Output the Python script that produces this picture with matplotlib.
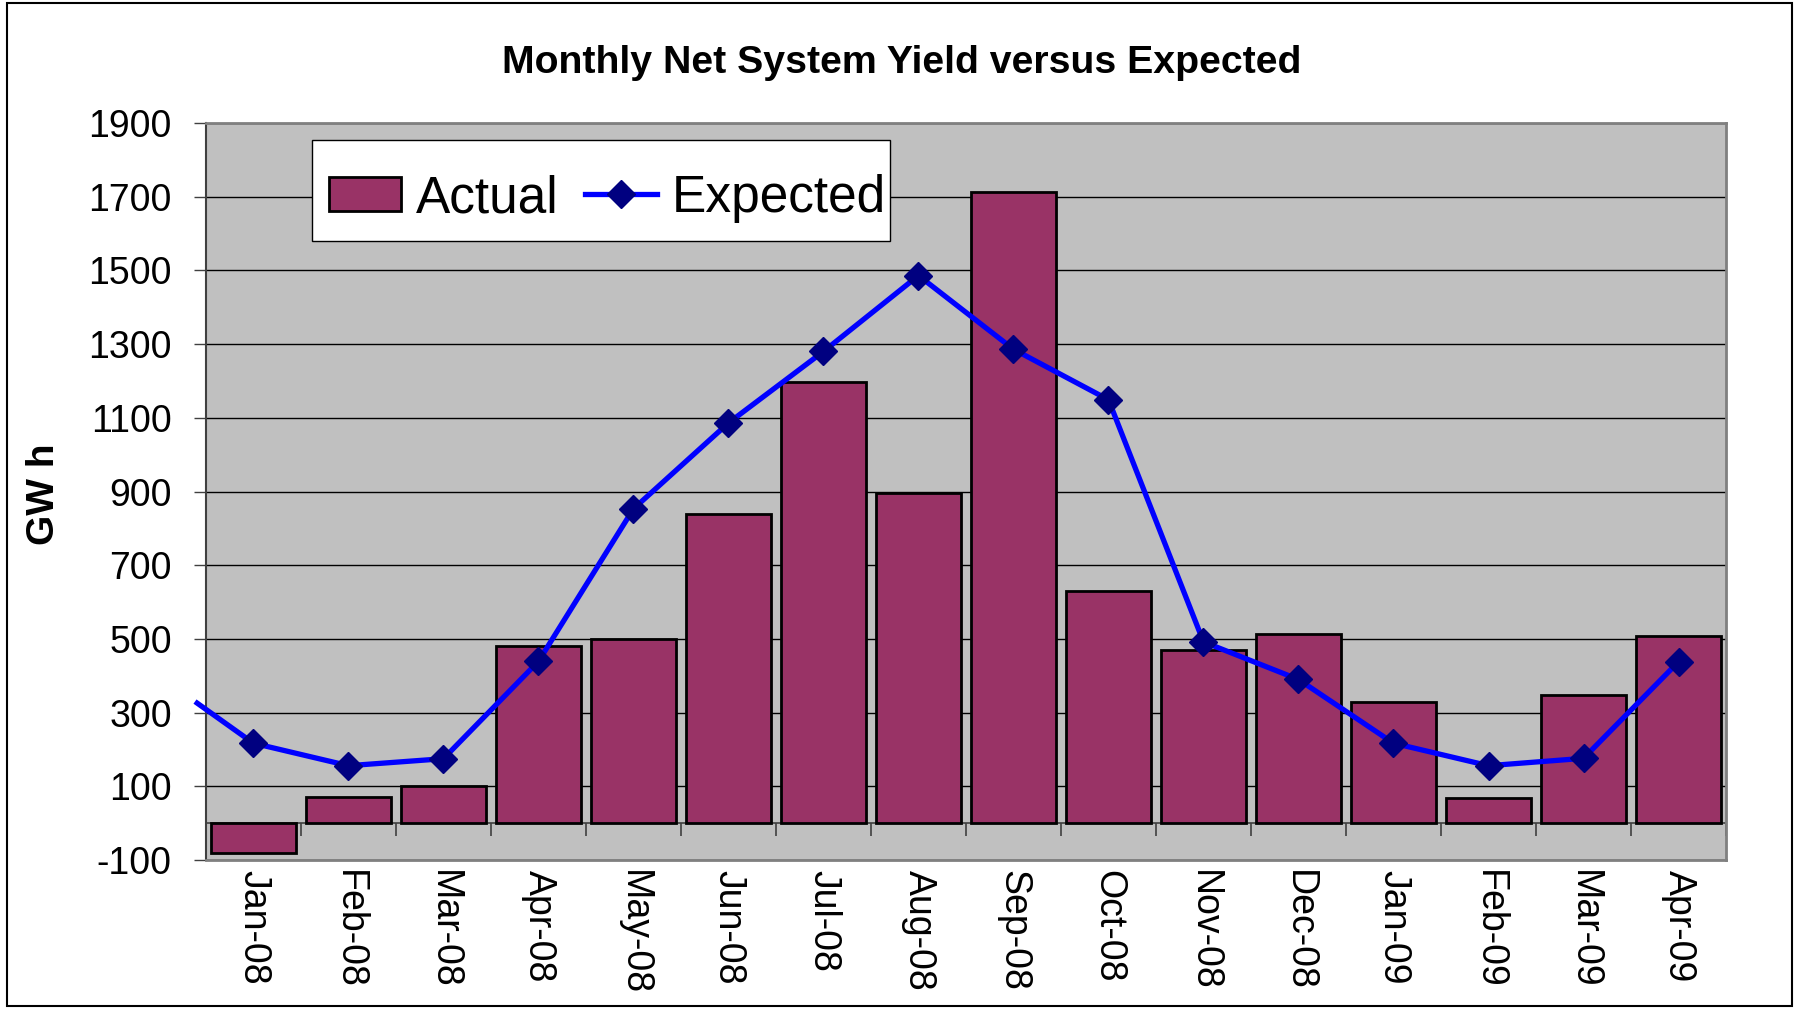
import numpy as np
import matplotlib.pyplot as plt
from matplotlib.patches import Rectangle, Patch
from matplotlib.lines import Line2D

plt.rcParams['font.family'] = ['Liberation Sans', 'DejaVu Sans']

months = ["Jan-08", "Feb-08", "Mar-08", "Apr-08", "May-08", "Jun-08",
          "Jul-08", "Aug-08", "Sep-08", "Oct-08", "Nov-08", "Dec-08",
          "Jan-09", "Feb-09", "Mar-09", "Apr-09"]
actual = [-80, 72, 100, 480, 501, 839, 1196, 895, 1713, 631, 471, 513,
          329, 67, 349, 507]
expected = [217, 156, 175, 439, 853, 1086, 1280, 1486, 1286, 1149, 492, 390,
            217, 156, 176, 438]
# line coming in from the left of the first month (value where it is cut)
expected_lead_in = 330

y_ticks = list(range(-100, 1901, 200))

BAR_COLOR = "#993366"
LINE_COLOR = "#0000FF"
MARKER_COLOR = "#000080"
PLOT_BG = "#C0C0C0"


def make_chart():
    fig = plt.figure(figsize=(18, 10.13), dpi=100)
    ax = fig.add_axes([0.1144, 0.151, 0.8445, 0.7276])
    ax.set_facecolor(PLOT_BG)

    x = np.arange(len(months))

    ax.bar(x, actual, width=0.9, color=BAR_COLOR, edgecolor="black",
           linewidth=2, zorder=3)

    # lead-in segment from the left edge
    ax.plot([x[0] - 0.615, x[0]], [expected_lead_in, expected[0]],
            color=LINE_COLOR, lw=3.8, zorder=4, clip_on=False,
            solid_capstyle="butt")
    ax.plot(x, expected, color=LINE_COLOR, lw=3.8, marker="D", ms=14.5,
            mfc=MARKER_COLOR, mec=MARKER_COLOR, zorder=5)

    ax.set_xlim(-0.5, len(months) - 0.5)
    ax.set_ylim(y_ticks[0], y_ticks[-1])
    ax.set_yticks(y_ticks)
    ax.set_yticklabels([str(v) for v in y_ticks], fontsize=27)
    ax.tick_params(axis="y", direction="out", length=8.6, width=1,
                   color="#404040", pad=16)
    ax.yaxis.grid(True, color="black", lw=1)
    ax.set_axisbelow(True)

    ax.set_xticks(x)
    ax.set_xticklabels(months, rotation=-90, fontsize=27)
    ax.tick_params(axis="x", length=0, pad=7)

    # category axis at zero with ticks between months
    ax.axhline(0, color="#404040", lw=1.2, zorder=2)
    ax.vlines(x[1:] - 0.5, -35, 0, color="#404040", lw=1.2, zorder=2)
    ax.vlines([x[-1] + 0.5], -35, 0, color="#404040", lw=1.2, zorder=2)

    for side in ["top", "right", "bottom"]:
        ax.spines[side].set_color("#808080")
        ax.spines[side].set_linewidth(2)
    ax.spines["left"].set_color("#404040")
    ax.spines["left"].set_linewidth(1.5)

    fig.text(0.501, 0.938, "Monthly Net System Yield versus Expected",
             fontsize=28.3, fontweight="bold", ha="center", va="center")
    fig.text(0.0244, 0.512, "GW h", fontsize=28, fontweight="bold",
             rotation=90, ha="center", va="center")

    # legend box drawn separately so it can be taller than the text row
    box = Rectangle((0.1735, 0.7621), 0.3208, 0.0997,
                    transform=fig.transFigure, facecolor="white",
                    edgecolor="black", lw=1, zorder=9)
    ax.add_artist(box)
    box.set_clip_on(False)

    handles = [
        Patch(facecolor=BAR_COLOR, edgecolor="black", linewidth=2),
        Line2D([], [], color=LINE_COLOR, lw=3.8, marker="D", ms=14.5,
               mfc=MARKER_COLOR, mec=MARKER_COLOR),
    ]
    leg = ax.legend(handles, ["Actual", "Expected"], ncol=2, fontsize=37,
                    loc="center", bbox_to_anchor=(0.3375, 0.804),
                    bbox_transform=fig.transFigure, borderaxespad=0,
                    frameon=False, handlelength=1.4, handleheight=0.66,
                    handletextpad=0.3, columnspacing=0.5, borderpad=0.2)
    leg.set_zorder(10)

    fig.patches.append(Rectangle((0.004, 0.007), 0.9916, 0.99,
                                 transform=fig.transFigure, fill=False,
                                 edgecolor="black", lw=1.5))

    fig.savefig("out.png", dpi=100)
    plt.close(fig)


if __name__ == "__main__":
    make_chart()
